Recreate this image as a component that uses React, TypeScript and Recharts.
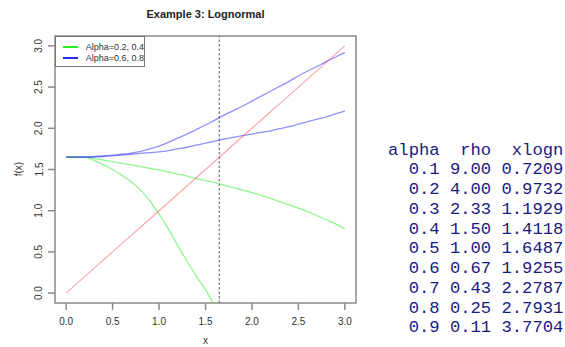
import React from "react";
import {
  LineChart,
  Line,
  XAxis,
  YAxis,
  ReferenceLine,
  ReferenceArea,
} from "recharts";

// x grid the curves were read at
const xs = [
  0, 0.1, 0.2, 0.3, 0.4, 0.5, 0.6, 0.7, 0.8, 0.9, 1.0, 1.1, 1.2, 1.3, 1.4, 1.5,
  1.6, 1.7, 1.8, 1.9, 2.0, 2.1, 2.2, 2.3, 2.4, 2.5, 2.6, 2.7, 2.8, 2.9, 3.0,
];
// red diagonal
const redLine = [
  0, 0.1, 0.2, 0.3, 0.4, 0.5, 0.6, 0.7, 0.8, 0.9, 1.0, 1.1, 1.2, 1.3, 1.4, 1.5,
  1.6, 1.7, 1.8, 1.9, 2.0, 2.1, 2.2, 2.3, 2.4, 2.5, 2.6, 2.7, 2.8, 2.9, 3.0,
];
const blueHi = [
  1.65, 1.65, 1.65, 1.655, 1.665, 1.675, 1.685, 1.7, 1.72, 1.75, 1.785, 1.83,
  1.88, 1.93, 1.985, 2.04, 2.1, 2.16, 2.215, 2.27, 2.33, 2.39, 2.45, 2.51, 2.57,
  2.635, 2.695, 2.75, 2.81, 2.865, 2.92,
];
const blueLo = [
  1.65, 1.65, 1.65, 1.653, 1.658, 1.665, 1.675, 1.685, 1.695, 1.705, 1.715,
  1.73, 1.75, 1.77, 1.795, 1.82, 1.845, 1.87, 1.89, 1.91, 1.93, 1.95, 1.97,
  1.995, 2.02, 2.05, 2.08, 2.11, 2.14, 2.175, 2.21,
];
const greenHi = [
  1.65, 1.65, 1.65, 1.635, 1.615, 1.595, 1.575, 1.555, 1.535, 1.515, 1.495,
  1.47, 1.445, 1.42, 1.39, 1.365, 1.34, 1.31, 1.28, 1.25, 1.22, 1.185, 1.15,
  1.11, 1.07, 1.03, 0.99, 0.94, 0.89, 0.84, 0.78,
];
const greenLo = [
  1.65, 1.65, 1.65, 1.61, 1.56, 1.5, 1.43, 1.35, 1.25, 1.12, 0.96, 0.78, 0.58,
  0.39, 0.21, 0.04, -0.16,
];

const xTicks = [0, 0.5, 1, 1.5, 2, 2.5, 3];
const yTicks = [0, 0.5, 1, 1.5, 2, 2.5, 3];
const xlognMedian = 1.6487;

// console table on the right
const tableHeader = "alpha  rho  xlogn";
const alphas = ["0.1", "0.2", "0.3", "0.4", "0.5", "0.6", "0.7", "0.8", "0.9"];
const rhos = ["9.00", "4.00", "2.33", "1.50", "1.00", "0.67", "0.43", "0.25", "0.11"];
const xlogns = ["0.7209", "0.9732", "1.1929", "1.4118", "1.6487", "1.9255", "2.2787", "2.7931", "3.7704"];

const legendItems = [
  { label: "Alpha=0.2, 0.4", color: "#22ee22" },
  { label: "Alpha=0.6, 0.8", color: "#2a2aee" },
];

const data = xs.map((x, i) => ({
  x,
  red: redLine[i],
  blueHi: blueHi[i],
  blueLo: blueLo[i],
  greenHi: greenHi[i],
  greenLo: i < greenLo.length ? greenLo[i] : null,
}));

const SANS = "'Liberation Sans', Arial, sans-serif";
const AXIS_GREY = "#8a8a8a";
const DOMAIN: [number, number] = [-0.12, 3.12];

const YTick = (props: any) => {
  const { y, payload } = props;
  return (
    <text
      x={39}
      y={y}
      dy="0.35em"
      transform={`rotate(-90, 39, ${y})`}
      textAnchor="middle"
      fontSize={10}
      fontFamily={SANS}
      fill="#333"
    >
      {payload.value.toFixed(1)}
    </text>
  );
};

export default function App() {
  return (
    <div
      style={{
        position: "absolute",
        left: 0,
        top: 0,
        width: 565,
        height: 347,
        background: "#fff",
        fontFamily: SANS,
      }}
    >
      <LineChart
        width={360}
        height={347}
        data={data}
        margin={{ top: 36, right: 4, bottom: 24, left: 0 }}
      >
        <XAxis
          dataKey="x"
          type="number"
          domain={DOMAIN}
          ticks={xTicks}
          allowDataOverflow
          axisLine={false}
          tickSize={7}
          tickMargin={8}
          height={20}
          tickLine={{ stroke: AXIS_GREY, strokeWidth: 1.5 }}
          tick={{ fontSize: 10, fill: "#333", fontFamily: SANS }}
          tickFormatter={(v: number) => v.toFixed(1)}
        />
        <YAxis
          type="number"
          domain={DOMAIN}
          ticks={yTicks}
          allowDataOverflow
          width={55}
          axisLine={false}
          tickSize={7}
          tickLine={{ stroke: AXIS_GREY, strokeWidth: 1.5 }}
          tick={<YTick />}
        />
        <ReferenceArea
          x1={DOMAIN[0]}
          x2={DOMAIN[1]}
          y1={DOMAIN[0]}
          y2={DOMAIN[1]}
          fill="none"
          stroke={AXIS_GREY}
          strokeWidth={1.5}
        />
        <ReferenceLine
          x={xlognMedian}
          stroke="#777"
          strokeWidth={1.2}
          strokeDasharray="2.5 2"
        />
        <Line type="monotone" dataKey="greenHi" stroke="#33ee33" strokeOpacity={0.55} strokeWidth={1.3} dot={false} isAnimationActive={false} />
        <Line type="monotone" dataKey="greenLo" stroke="#33ee33" strokeOpacity={0.55} strokeWidth={1.3} dot={false} isAnimationActive={false} />
        <Line type="monotone" dataKey="blueHi" stroke="#2020ff" strokeOpacity={0.5} strokeWidth={1.3} dot={false} isAnimationActive={false} />
        <Line type="monotone" dataKey="blueLo" stroke="#2020ff" strokeOpacity={0.5} strokeWidth={1.3} dot={false} isAnimationActive={false} />
        <Line type="linear" dataKey="red" stroke="#ff3030" strokeOpacity={0.42} strokeWidth={1.2} dot={false} isAnimationActive={false} />
      </LineChart>

      {/* title and axis titles */}
      <div
        style={{
          position: "absolute",
          left: 55,
          width: 301,
          top: 8,
          textAlign: "center",
          fontSize: 11,
          fontWeight: "bold",
          color: "#222",
        }}
      >
        Example 3: Lognormal
      </div>
      <div
        style={{
          position: "absolute",
          left: 55,
          width: 301,
          top: 335,
          textAlign: "center",
          fontSize: 10,
          color: "#333",
        }}
      >
        x
      </div>
      <div
        style={{
          position: "absolute",
          left: 0,
          top: 162,
          width: 40,
          textAlign: "center",
          fontSize: 10,
          color: "#333",
          transform: "rotate(-90deg)",
          transformOrigin: "20px 7px",
        }}
      >
        f(x)
      </div>

      {/* legend */}
      <div
        style={{
          position: "absolute",
          left: 55,
          top: 36,
          width: 90,
          height: 31,
          border: "1px solid #777",
          boxSizing: "border-box",
          fontSize: 9,
          color: "#333",
          paddingTop: 4,
          whiteSpace: "nowrap",
        }}
      >
        {legendItems.map((it) => (
          <div key={it.label} style={{ display: "flex", alignItems: "center", height: 11 }}>
            <span style={{ display: "inline-block", width: 15, height: 2, background: it.color, marginLeft: 7, marginRight: 8 }} />
            <span>{it.label}</span>
          </div>
        ))}
      </div>

      {/* console table */}
      <div
        style={{
          position: "absolute",
          left: 388,
          top: 140.5,
          fontFamily: "'Liberation Mono', 'Courier New', monospace",
          fontSize: 17.2,
          lineHeight: "19.75px",
          color: "#1a1a80",
          whiteSpace: "pre",
        }}
      >
        <div>{tableHeader}</div>
        {alphas.map((a, i) => (
          <div key={a}>{`  ${a} ${rhos[i]} ${xlogns[i]}`}</div>
        ))}
      </div>
    </div>
  );
}
